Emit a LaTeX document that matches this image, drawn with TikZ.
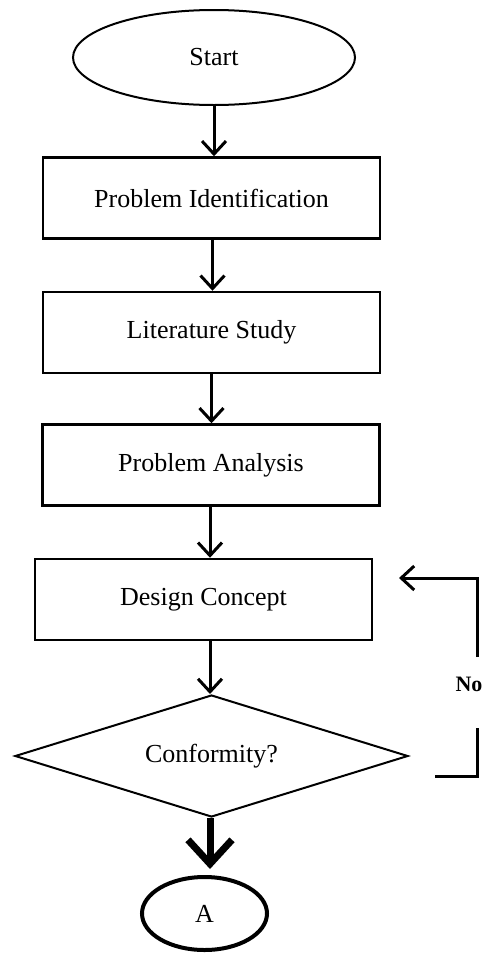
\documentclass[tikz,border=0pt]{standalone}
\usepackage{fontspec}
\setmainfont{Liberation Serif}
\usetikzlibrary{shapes.geometric,arrows.meta,calc}
\begin{document}
\begin{tikzpicture}[x=1pt,y=-1pt,
  every node/.style={font=\fontsize{26}{30}\selectfont},
  procbox/.style={draw, line width=2.5pt, rectangle, minimum width=337pt, minimum height=81pt, inner sep=0pt},
  termell/.style={draw, ellipse, inner sep=0pt},
  decis/.style={draw, diamond, line width=2pt, aspect=3.2, inner sep=0pt, minimum width=393pt, minimum height=122pt},
  flow/.style={line width=3pt, -{Straight Barb[length=13pt,width=24pt]}},
  bigflow/.style={line width=7pt, -{Straight Barb[length=24pt,width=44pt]}},
  fbline/.style={line width=3pt},
  fbarrow/.style={line width=3pt, -{Straight Barb[length=13pt,width=24pt]}}
]
\useasboundingbox (0,0) rectangle (490,956);
\node[termell, line width=2pt, minimum width=282pt, minimum height=95pt] (start) at (214,57.5) {Start};
\node[procbox] (b1) at (211.5,198) {Problem Identification};
\node[procbox] (b2) at (211.5,332.5) {Literature Study};
\node[procbox] (b3) at (211,465) {Problem Analysis};
\node[procbox] (b4) at (203.5,599.5) {Design Concept};
\node[decis] (dec) at (211.5,756) {Conformity?};
\node[termell, line width=4pt, minimum width=125pt, minimum height=73pt] (A) at (204.5,913.5) {A};

\draw[flow] (start.south) -- (start.south |- b1.north);
\draw[flow] ($(b1.south)+(1,0)$) -- ($(b1.south |- b2.north)+(1,0)$);
\draw[flow] (b2.south) -- (b2.south |- b3.north);
\draw[flow] ($(b3.south)+(-1,0)$) -- ($(b3.south |- b4.north)+(-1,0)$);
\draw[flow] ($(b4.south)+(6.5,0)$) -- ($(b4.south |- dec.north)+(6.5,0)$);
\draw[bigflow] ($(dec.south)+(-1.5,0)$) -- ($(dec.south |- A.north)+(-1.5,-6)$);

\coordinate (fbA) at (435,776);
\coordinate (fbB) at (477,776);
\coordinate (fbC) at (477,728);
\coordinate (fbD) at (477,657);
\coordinate (fbE) at (477,578);
\coordinate (fbF) at (399,578);
\node[font=\fontsize{22}{26}\selectfont\bfseries] (no) at (469,684) {No};
\draw[fbline] (fbA) -- (fbB) -- (fbC);
\draw[fbarrow] (fbD) -- (fbE) -- (fbF);
\end{tikzpicture}
\end{document}
